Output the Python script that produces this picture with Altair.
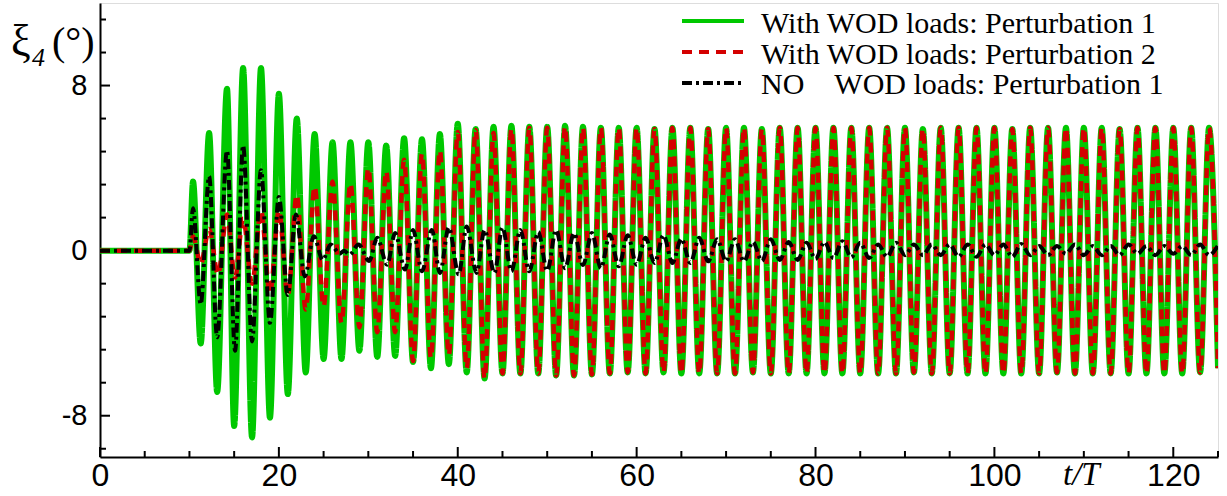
import altair as alt
import pandas as pd

# ---------------- data ----------------
S1 = "With WOD loads: Perturbation 1"
S2 = "With WOD loads: Perturbation 2"
S3 = "NO\u00a0\u00a0\u00a0\u00a0WOD loads: Perturbation 1"
series_names = [S1, S2, S3]
series_colors = ["#00c800", "#d40000", "#000000"]
series_dashes = [[1, 0], [10, 7], [10, 4, 3, 4]]

# green: with WOD loads, perturbation 1 (extrema, t/T and degrees)
green_t_early = [0, 10, 10.4, 11.26, 12.2, 13.1, 14.2, 15.0,
                 16, 17, 18, 19, 20, 21, 22, 23, 24, 25, 26, 27, 28, 29, 30,
                 31, 32, 33, 34, 35, 36, 37, 38, 39, 40, 41, 42, 43, 44, 45,
                 46, 47, 48, 49, 50, 51, 52, 53, 54]
green_v_early = [0, 0, 3.35, -4.5, 5.7, -6.85, 7.85, -8.5,
                 8.85, -9.05, 8.85, -8.1, 7.6, -6.95, 6.4, -5.9, 5.65, -5.25, 5.25, -5.25, 5.25, -4.85, 5.25,
                 -5.15, 5.1, -5.1, 5.45, -5.4, 5.4, -5.7, 5.65, -5.5, 6.15, -5.9, 5.9, -6.2, 6.0, -5.95,
                 6.05, -5.95, 6.0, -5.95, 6.0, -6.05, 6.05, -6.05, 6.0]

# steady part (t = 55 ... 125): troughs at odd t, peaks at even t
steady_t = list(range(55, 126))
steady_troughs = [-6.0, -5.95, -5.9, -5.95, -5.9, -5.95, -5.95, -5.95, -5.95, -5.9,
                  -5.95, -5.95, -5.95, -5.95, -5.95, -5.95, -5.95, -5.95, -5.9, -5.95,
                  -5.95, -5.95, -5.95, -5.95, -5.95, -5.95, -5.9, -5.95, -5.95, -5.95,
                  -5.95, -5.95, -5.95, -5.95, -5.9, -5.7]
steady_peaks = [5.95, 5.95, 5.95, 5.9, 5.95, 5.95, 5.9, 5.95, 5.95, 5.9,
                5.95, 5.95, 5.95, 5.95, 5.95, 5.95, 5.95, 5.95, 5.9, 5.95,
                5.95, 5.95, 5.95, 5.9, 5.95, 5.95, 5.95, 5.95, 5.95, 5.9,
                5.95, 5.95, 5.95, 5.95, 5.95]

# red: with WOD loads, perturbation 2
red_t_early = [0, 10, 10.4, 11.26, 12.2, 13.2, 14.2, 15.1,
               16, 17, 18, 19, 20, 21, 22, 23, 24, 25, 26, 27, 28, 29, 30,
               31, 32, 33, 34, 35, 36, 37, 38, 39, 40, 41, 42, 43, 44, 45,
               46, 47, 48, 49, 50, 51, 52, 53, 54]
red_v_early = [0, 0, 0.7, -0.65, 1.05, -1.15, 1.75, -1.3,
               1.55, -1.6, 1.95, -2.1, 1.95, -2.2, 2.7, -2.85, 3.1, -2.7, 3.35, -3.5, 3.25, -3.72, 4.0,
               -3.95, 3.85, -3.95, 4.4, -5.35, 4.7, -5.2, 4.85, -5.05, 5.75, -5.7, 5.85, -6.2, 5.7, -5.95,
               5.9, -5.95, 5.95, -5.95, 5.95, -6.05, 6.0, -6.05, 5.95]

# black: no WOD loads, perturbation 1
black_t_early = [0, 10, 10.4, 11.26, 12.2, 13.1, 14.2, 15.1,
                 16, 17, 18, 19, 20, 21,
                 21.9, 22.9, 23.9, 24.9, 25.8, 26.8, 27.3, 27.9, 28.9,
                 30.1, 31.0, 32.1, 33.0, 34.1, 35.0, 36.0, 37.1, 38.0, 39.0, 40.1, 41.0, 42.1, 43.0, 44.1, 45.0,
                 46, 47, 48, 49, 50, 51, 52, 53, 54]
black_v_early = [0, 0, 2.05, -2.6, 3.6, -4.2, 4.85, -4.85,
                 5.1, -4.4, 3.9, -3.5, 2.6, -2.15,
                 1.75, -1.25, 0.7, -0.45, 0.3, -0.15, 0.0, -0.2, 0.3,
                 -0.5, 0.62, -0.68, 0.85, -0.92, 1.0, -1.0, 1.0, -1.08, 1.12, -1.15, 1.17, -1.08, 1.0, -1.08, 1.12,
                 -1.0, 1.0, -1.0, 0.9, -0.98, 1.0, -0.85, 0.85, -0.7]
# steady black: peaks at odd t (55..125), troughs at even t (56..124)
black_peaks = [0.85, 0.78, 0.75, 0.62, 0.75, 0.58, 0.62, 0.55, 0.55, 0.42, 0.55, 0.42,
               0.38, 0.42, 0.45, 0.38, 0.3, 0.38,
               0.3, 0.3, 0.3, 0.3, 0.3, 0.3, 0.32, 0.22, 0.22, 0.3, 0.22, 0.22,
               0.3, 0.22, 0.22, 0.22, 0.3, 0.25]
black_troughs = [-0.85, -0.76, -0.68, -0.6, -0.6, -0.6, -0.52, -0.52, -0.52, -0.5,
                 -0.45, -0.45, -0.4, -0.36, -0.33, -0.36, -0.3,
                 -0.22, -0.22, -0.22, -0.3, -0.3, -0.22, -0.3, -0.22, -0.22,
                 -0.15, -0.22, -0.22, -0.22, -0.15, -0.22, -0.15, -0.22, -0.22]

x_major = [0, 20, 40, 60, 80, 100, 120]
x_minor = [5, 10, 15, 25, 30, 35, 45, 50, 55, 65, 70, 75, 85, 90, 95, 105, 110, 115, 125]
y_major = [-8, 0, 8]
y_minor = [-9.6, -6.4, -4.8, -3.2, -1.6, 1.6, 3.2, 4.8, 6.4, 9.6, 11.2]


def interleave(a, b):
    out = []
    for i in range(max(len(a), len(b))):
        if i < len(a):
            out.append(a[i])
        if i < len(b):
            out.append(b[i])
    return out


green_steady = interleave(steady_troughs, steady_peaks)
black_steady = interleave(black_peaks, black_troughs)

rows = []
for t, v in zip(green_t_early + steady_t, green_v_early + green_steady):
    rows.append({"t": t, "v": v, "series": S1})
for t, v in zip(red_t_early + steady_t, red_v_early + green_steady):
    rows.append({"t": t, "v": v, "series": S2})
for t, v in zip(black_t_early + steady_t, black_v_early + black_steady):
    rows.append({"t": t, "v": v, "series": S3})
df = pd.DataFrame(rows)

# ---------------- chart ----------------
W, H = 1118, 454
xscale = alt.Scale(domain=[0, 125], nice=False, zero=False)
yscale = alt.Scale(domain=[-10, 12.0], nice=False, zero=False)

xaxis = alt.Axis(values=x_major, ticks=False, tickSize=0, grid=False, domainColor="black",
                 domainWidth=2, labelFont="Liberation Sans", labelFontSize=32, labelColor="black",
                 labelPadding=3, labelFlush=False, title=None, labelExpr="'' + datum.value")
yaxis = alt.Axis(values=y_major, ticks=False, tickSize=0, grid=False, domainColor="black",
                 domainWidth=2, labelFont="Liberation Sans", labelFontSize=29, labelColor="black",
                 labelPadding=13, labelFlush=False, title=None, labelExpr="'' + datum.value")

color = alt.Color("series:N", scale=alt.Scale(domain=series_names, range=series_colors), legend=None)
dash = alt.StrokeDash("series:N", scale=alt.Scale(domain=series_names, range=series_dashes), legend=None)


def line_layer(name, width):
    return alt.Chart(df).transform_filter(alt.datum.series == name).mark_line(
        interpolate="monotone", strokeWidth=width, clip=True
    ).encode(
        x=alt.X("t:Q", scale=xscale, axis=xaxis),
        y=alt.Y("v:Q", scale=yscale, axis=yaxis),
        color=color,
        strokeDash=dash,
        order="t:Q",
    )


g_layer = line_layer(S1, 6)
r_layer = line_layer(S2, 4.5)
k_layer = line_layer(S3, 4)

xt_major = alt.Chart(pd.DataFrame({"v": x_major})).mark_rule(color="black", strokeWidth=2).encode(
    x=alt.X("v:Q", scale=xscale, axis=xaxis), y=alt.value(H), y2=alt.value(H - 10))
xt_minor = alt.Chart(pd.DataFrame({"v": x_minor})).mark_rule(color="black", strokeWidth=2).encode(
    x=alt.X("v:Q", scale=xscale, axis=xaxis), y=alt.value(H), y2=alt.value(H - 6))
yt_major = alt.Chart(pd.DataFrame({"v": y_major})).mark_rule(color="black", strokeWidth=2).encode(
    y=alt.Y("v:Q", scale=yscale, axis=yaxis), x=alt.value(0), x2=alt.value(10))
yt_minor = alt.Chart(pd.DataFrame({"v": y_minor})).mark_rule(color="black", strokeWidth=2).encode(
    y=alt.Y("v:Q", scale=yscale, axis=yaxis), x=alt.value(0), x2=alt.value(6))


def label(s, x, y, size, style="normal", font="Liberation Serif"):
    return alt.Chart(pd.DataFrame({"s": [s]})).mark_text(
        font=font, fontSize=size, fontStyle=style, align="left", baseline="alphabetic", color="black"
    ).encode(x=alt.value(x), y=alt.value(y), text="s:N")


xi = label("ξ", -89, 52, 44)
sub = label("4", -68, 63, 26, "italic")
unit = label("(°)", -48, 52, 40)
tT = label("t/T", 963, 482, 33, "italic")

# legend (drawn by hand: symbol line + label per row)
leg_sym_y = [18, 49, 80]
leg_txt_y = [30, 61, 91]
legend_layers = []
for name, col, dsh, sy, ty in zip(series_names, series_colors, series_dashes, leg_sym_y, leg_txt_y):
    legend_layers.append(
        alt.Chart(pd.DataFrame({"s": [name]})).mark_rule(strokeWidth=4).encode(
            x=alt.value(582), x2=alt.value(644), y=alt.value(sy),
            color=alt.value(col), strokeDash=alt.value(dsh))
    )
    legend_layers.append(label(name, 661, ty, 30))

chart = alt.layer(
    g_layer, r_layer, k_layer, xt_major, xt_minor, yt_major, yt_minor, xi, sub, unit, tT,
    *legend_layers
).properties(
    width=W, height=H, autosize="none",
    padding={"left": 100, "top": 3, "right": 9, "bottom": 39},
).configure_view(strokeWidth=0).configure(background="white")

chart.save("out.html", embed_options={"renderer": "svg", "actions": False})
